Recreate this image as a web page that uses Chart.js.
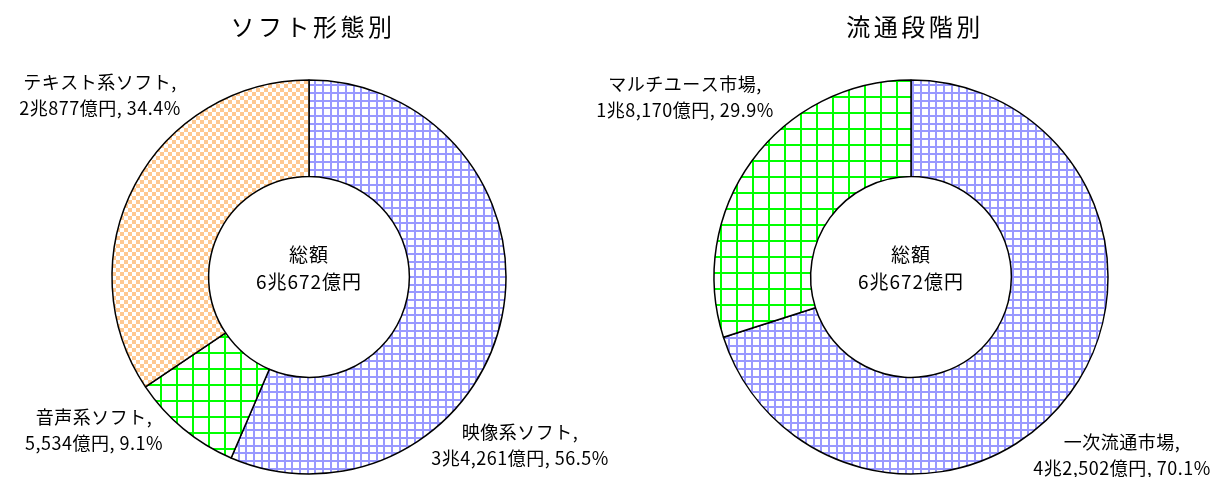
<!DOCTYPE html>
<html>
<head>
<meta charset="utf-8">
<script src="https://cdn.jsdelivr.net/npm/chart.js@4.4.1/dist/chart.umd.min.js"></script>
<style>
  html, body { margin: 0; padding: 0; background: #fff; }
  #wrap { position: relative; width: 1218px; height: 477px; overflow: hidden; }
  #wrap canvas { position: absolute; left: 0; top: 0; }
</style>
</head>
<body>
<div id="wrap">
  <canvas id="softChart" width="1218" height="477"></canvas>
  <canvas id="distChart" width="1218" height="477"></canvas>
</div>
<script>
// 単位: 億円
const softLabels = ["映像系ソフト", "音声系ソフト", "テキスト系ソフト"];
const softValues = [34261, 5534, 20877];
const distLabels = ["一次流通市場", "マルチユース市場"];
const distValues = [42502, 18170];
const titles = ["ソフト形態別", "流通段階別"];
const centerCaption = "総額";

const FONT = '"Noto Sans CJK JP", "Noto Sans", sans-serif';

// 1兆 = 10000億
function fmtOku(v) {
	const cho = Math.floor(v / 10000);
	const rest = v % 10000;
	const restTxt = rest.toLocaleString("en-US");
	return cho > 0 ? cho + "兆" + restTxt + "億円" : restTxt + "億円";
}

function fmtPct(v, total) {
	return (Math.round((v / total) * 1000) / 10).toFixed(1) + "%";
}

// hatch fills
function gridPattern(color, size, offsets, lw) {
	const c = document.createElement("canvas");
	c.width = size;
	c.height = size;
	const g = c.getContext("2d");
	g.fillStyle = "#fff";
	g.fillRect(0, 0, size, size);
	g.fillStyle = color;
	offsets.forEach((o) => {
		g.fillRect(o, 0, lw, size);
		g.fillRect(0, o, size, lw);
	});
	return g.createPattern(c, "repeat");
}

function checkerPattern(color, cell) {
	const c = document.createElement("canvas");
	c.width = cell * 2;
	c.height = cell * 2;
	const g = c.getContext("2d");
	g.fillStyle = "#fff";
	g.fillRect(0, 0, cell * 2, cell * 2);
	g.fillStyle = color;
	g.fillRect(0, 0, cell, cell);
	g.fillRect(cell, cell, cell, cell);
	return g.createPattern(c, "repeat");
}

const blueGrid = gridPattern("#9999ff", 23, [0, 8, 15], 2);
const greenGrid = gridPattern("#00ff00", 16, [0], 2);
const peachCheck = checkerPattern("#ffc890", 4);

// title, total in the hole and the callout texts
function overlay(title, labels, values, anchors) {
	const total = values.reduce((a, b) => a + b, 0);
	return {
		id: "overlay",
		afterDraw(chart) {
			const ctx = chart.ctx;
			const arc = chart.getDatasetMeta(0).data[0];
			const cx = arc.x;
			const cy = arc.y;
			ctx.save();
			ctx.fillStyle = "#000";
			ctx.textAlign = "center";
			ctx.textBaseline = "middle";

			ctx.font = "24px " + FONT;
			ctx.letterSpacing = "3.5px";
			ctx.fillText(title, cx + 4, 27);

			ctx.font = "19px " + FONT;
			ctx.letterSpacing = "1px";
			ctx.fillText(centerCaption, cx, cy - 22);
			ctx.fillText(fmtOku(total), cx, cy + 5);

			ctx.font = "18px " + FONT;
			ctx.letterSpacing = "0.5px";
			labels.forEach((lab, i) => {
				const a = anchors[i];
				ctx.fillText(lab + ",", a[0], a[1]);
				ctx.fillText(fmtOku(values[i]) + ", " + fmtPct(values[i], total), a[0], a[1] + 26);
			});
			ctx.restore();
		},
	};
}

function makeDonut(id, labels, values, fills, pad, title, anchors) {
	return new Chart(document.getElementById(id), {
		type: "doughnut",
		data: {
			labels: labels,
			datasets: [
				{
					data: values,
					backgroundColor: fills,
					borderColor: "#000",
					borderWidth: 1.5,
				},
			],
		},
		options: {
			responsive: false,
			animation: false,
			radius: 197,
			cutout: 100,
			layout: { padding: pad },
			plugins: {
				legend: { display: false },
				tooltip: { enabled: false },
			},
		},
		plugins: [overlay(title, labels, values, anchors)],
	});
}

makeDonut(
	"softChart",
	softLabels,
	softValues,
	[blueGrid, greenGrid, peachCheck],
	{ top: 80, bottom: 3, left: 112, right: 712 },
	titles[0],
	[[520, 432], [94, 417], [100, 82]]
);

makeDonut(
	"distChart",
	distLabels,
	distValues,
	[blueGrid, greenGrid],
	{ top: 80, bottom: 3, left: 714, right: 110 },
	titles[1],
	[[1122, 442], [685, 84]]
);
</script>
</body>
</html>
